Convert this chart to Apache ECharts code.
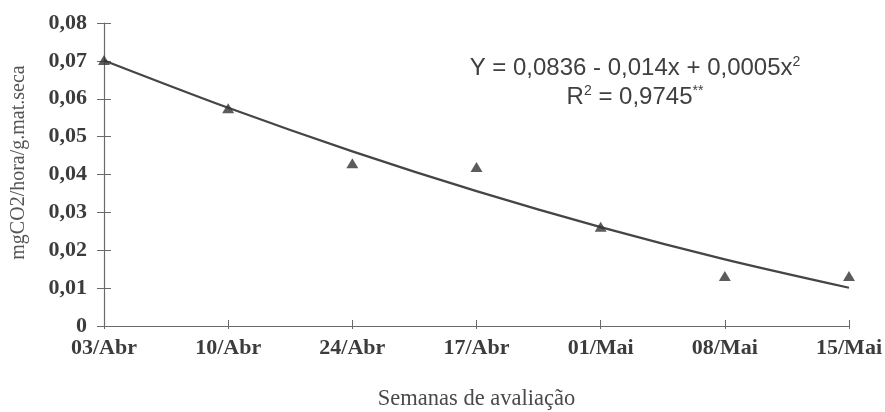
<!DOCTYPE html>
<html>
<head>
<meta charset="utf-8">
<script src="https://cdn.jsdelivr.net/npm/echarts@6/dist/echarts.min.js"></script>
<style>
  html, body { margin: 0; padding: 0; background: #ffffff; }
  #chart { width: 885px; height: 412px; }
</style>
</head>
<body>
<div id="chart"></div>
<script>
// Evaluation weeks (category order as printed on the axis)
const weeks = ['03/Abr', '10/Abr', '24/Abr', '17/Abr', '01/Mai', '08/Mai', '15/Mai'];
// Observed respiration rate (mgCO2/hora/g.mat.seca)
const observed = [0.0702, 0.0575, 0.0430, 0.0420, 0.0262, 0.0132, 0.0132];
// Fitted quadratic trend values at each week
const fitted = [0.0701, 0.0576, 0.0461, 0.0356, 0.0261, 0.0176, 0.0101];
// Y-axis range and step
const yMin = 0, yMax = 0.08, yStep = 0.01;

const serif = '"Liberation Serif", "Times New Roman", serif';
const sans = '"Liberation Sans", Arial, sans-serif';
const axisGray = '#6a6a6a';
const inkGray = '#3c3c3c';

const fmt = v => (v === 0 ? '0' : v.toFixed(2).replace('.', ','));

const chart = echarts.init(document.getElementById('chart'), null, { renderer: 'canvas' });

const supStyle = { fontSize: 14, fontFamily: sans, verticalAlign: 'top', padding: [0, 0, 12, 0], fill: '#404040' };

chart.setOption({
  backgroundColor: '#ffffff',
  animation: false,
  grid: { left: 104, right: 36, top: 23, bottom: 86, containLabel: false, outerBoundsMode: 'none' },
  xAxis: [
    {
      type: 'category',
      data: weeks,
      boundaryGap: false,
      axisLine: { lineStyle: { color: axisGray, width: 1.2 } },
      axisTick: { show: true, inside: true, length: 6, lineStyle: { color: axisGray } },
      axisLabel: { color: inkGray, fontFamily: serif, fontWeight: 'bold', fontSize: 22, margin: 11 },
      name: 'Semanas de avaliação',
      nameLocation: 'middle',
      nameGap: 62,
      nameTextStyle: { color: '#4a4a4a', fontFamily: serif, fontSize: 22.5 },
      splitLine: { show: false }
    },
    {
      type: 'category',
      data: weeks,
      boundaryGap: false,
      position: 'bottom',
      axisLine: { show: false },
      axisTick: { show: true, inside: false, length: 3, lineStyle: { color: axisGray } },
      axisLabel: { show: false },
      splitLine: { show: false }
    }
  ],
  yAxis: [
    {
      type: 'value',
      min: yMin,
      max: yMax,
      interval: yStep,
      axisLine: { show: true, lineStyle: { color: axisGray, width: 1.2 } },
      axisTick: { show: true, inside: false, length: 7, lineStyle: { color: axisGray } },
      axisLabel: { color: inkGray, fontFamily: serif, fontWeight: 'bold', fontSize: 22, margin: 17, formatter: fmt },
      name: 'mgCO2/hora/g.mat.seca',
      nameLocation: 'middle',
      nameGap: 75,
      nameRotate: 90,
      nameTextStyle: { color: '#555555', fontFamily: serif, fontSize: 20, padding: [0, 0, 0, 24] },
      splitLine: { show: false }
    },
    {
      type: 'value',
      min: yMin,
      max: yMax,
      interval: yStep,
      position: 'left',
      axisLine: { show: false },
      axisTick: { show: true, inside: true, length: 7, lineStyle: { color: axisGray } },
      axisLabel: { show: false },
      splitLine: { show: false }
    }
  ],
  series: [
    {
      name: 'Ajuste',
      type: 'line',
      data: fitted,
      smooth: 0.3,
      showSymbol: false,
      lineStyle: { color: '#454545', width: 2.2 },
      z: 2
    },
    {
      name: 'Observado',
      type: 'scatter',
      data: observed,
      symbol: 'triangle',
      symbolSize: [12, 10],
      itemStyle: { color: '#333333' },
      z: 3
    }
  ],
  graphic: [
    {
      type: 'text',
      x: 635,
      y: 68,
      style: {
        text: 'Y = 0,0836 - 0,014x + 0,0005x{sup|2}',
        font: '24px ' + sans,
        fill: '#404040',
        align: 'center',
        verticalAlign: 'middle',
        rich: { sup: supStyle }
      }
    },
    {
      type: 'text',
      x: 635,
      y: 97,
      style: {
        text: 'R{sup|2} = 0,9745{sup|**}',
        font: '24px ' + sans,
        fill: '#404040',
        align: 'center',
        verticalAlign: 'middle',
        rich: { sup: supStyle }
      }
    }
  ]
});
</script>
</body>
</html>
